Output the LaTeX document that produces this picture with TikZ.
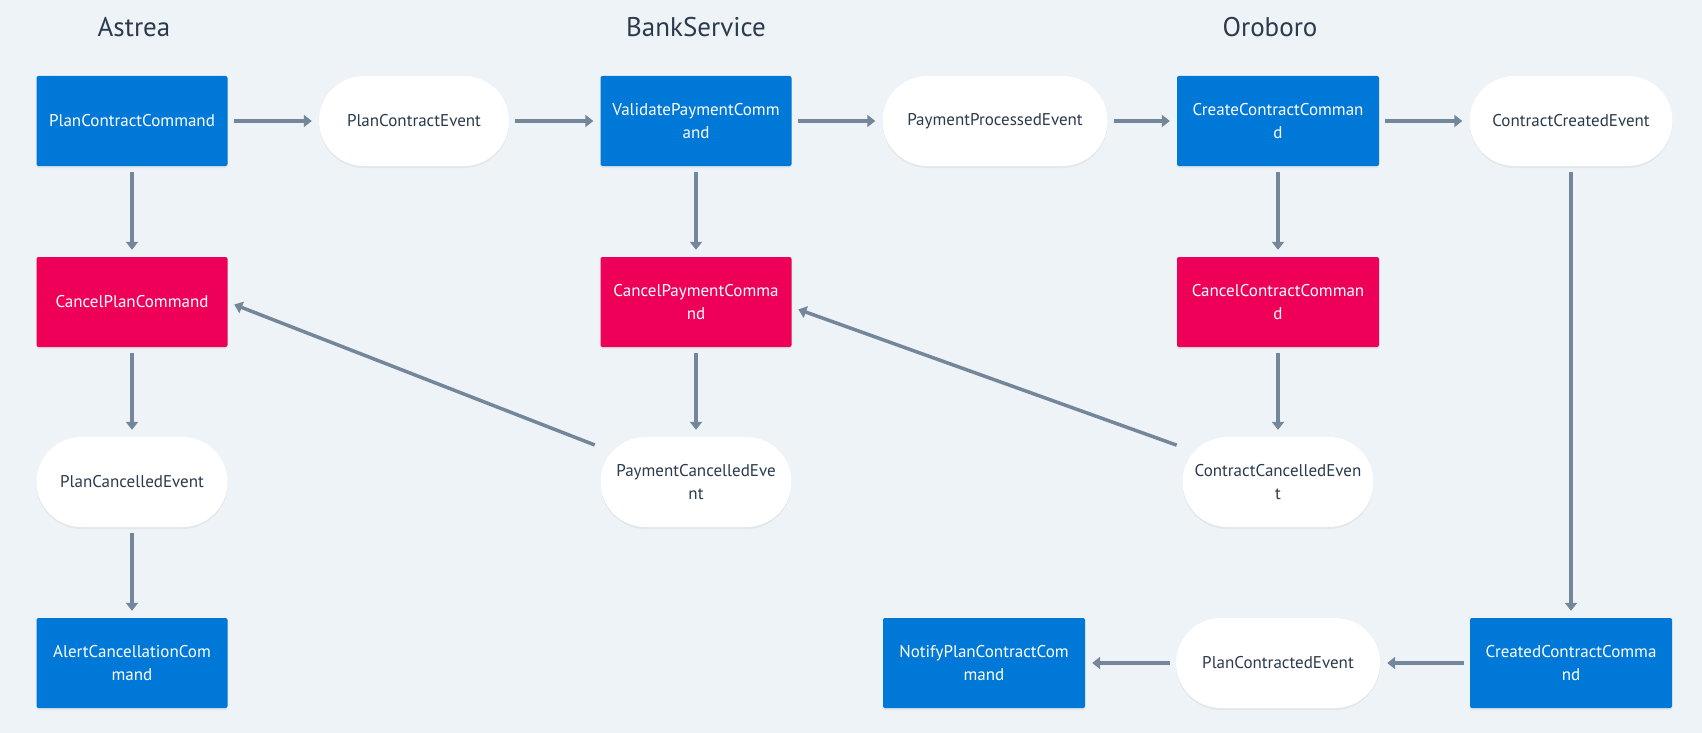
\documentclass[tikz,border=0pt]{standalone}
\usepackage{fontspec}
\setmainfont{PT Sans}
\usetikzlibrary{arrows.meta,shadows}
\definecolor{bg}{HTML}{EEF3F7}
\definecolor{cmdblue}{HTML}{0078D7}
\definecolor{cancelred}{HTML}{EE0058}
\definecolor{arrowc}{HTML}{748699}
\definecolor{txt}{HTML}{2B3A4C}
\begin{document}
\begin{tikzpicture}[x=1pt,y=-1pt,
  base/.style={minimum height=90pt, inner sep=0pt, align=center,
    font=\fontsize{17}{22.5}\selectfont,
    drop shadow={opacity=0.10,shadow xshift=0pt,shadow yshift=-2pt}},
  cmd/.style={base, fill=cmdblue, text=white, rounded corners=2pt},
  cancel/.style={cmd, fill=cancelred},
  evt/.style={base, fill=white, text=txt, rounded corners=45pt},
  ttl/.style={font=\fontsize{27}{32}\selectfont, text=txt},
  flow/.style={draw=arrowc, line width=3.5pt, -{Triangle[length=8pt,width=12pt]},
    shorten >=7pt, shorten <=6pt}]
\fill[bg] (0,0) rectangle (1702,733);
\useasboundingbox (0,0) rectangle (1702,733);

\node[ttl] (tA) at (134,27) {Astrea};
\node[ttl] (tB) at (696,27) {BankService};
\node[ttl] (tO) at (1270,27) {Oroboro};

\node[cmd, minimum width=191pt] (pcc) at (132,121) {PlanContractCommand};
\node[evt, minimum width=190pt] (pce) at (414,121) {PlanContractEvent};
\node[cmd, minimum width=191pt] (vpc) at (696,121) {ValidatePaymentComm\\and};
\node[evt, minimum width=225pt] (ppe) at (995,121) {PaymentProcessedEvent};
\node[cmd, minimum width=202pt] (ccc) at (1278,121) {CreateContractComman\\d};
\node[evt, minimum width=203pt] (cce) at (1571,121) {ContractCreatedEvent};

\node[cancel, minimum width=191pt] (cpl) at (132,302) {CancelPlanCommand};
\node[cancel, minimum width=191pt] (cpay) at (696,302) {CancelPaymentComma\\nd};
\node[cancel, minimum width=202pt] (ccon) at (1278,302) {CancelContractComman\\d};

\node[evt, minimum width=191pt] (plce) at (132,482) {PlanCancelledEvent};
\node[evt, minimum width=191pt] (payce) at (696,482) {PaymentCancelledEve\\nt};
\node[evt, minimum width=191pt] (conce) at (1278,482) {ContractCancelledEven\\t};

\node[cmd, minimum width=191pt] (acc) at (132,663) {AlertCancellationCom\\mand};
\node[cmd, minimum width=202pt] (npc) at (984,663) {NotifyPlanContractCom\\mand};
\node[evt, minimum width=204pt] (pcte) at (1278,663) {PlanContractedEvent};
\node[cmd, minimum width=202pt] (crcc) at (1571,663) {CreatedContractComma\\nd};

\draw[flow] (pcc) -- (pce);
\draw[flow] (pce) -- (vpc);
\draw[flow] (vpc) -- (ppe);
\draw[flow] (ppe) -- (ccc);
\draw[flow] (ccc) -- (cce);

\draw[flow] (pcc) -- (cpl);
\draw[flow] (cpl) -- (plce);
\draw[flow] (plce) -- (acc);
\draw[flow] (vpc) -- (cpay);
\draw[flow] (cpay) -- (payce);
\draw[flow] (ccc) -- (ccon);
\draw[flow] (ccon) -- (conce);
\draw[flow] (cce) -- (crcc);

\draw[flow] (payce.160) -- (cpl.east);
\draw[flow] (conce.160) -- (cpay.-3);

\draw[flow] (crcc) -- (pcte);
\draw[flow] (pcte) -- (npc);
\end{tikzpicture}
\end{document}
